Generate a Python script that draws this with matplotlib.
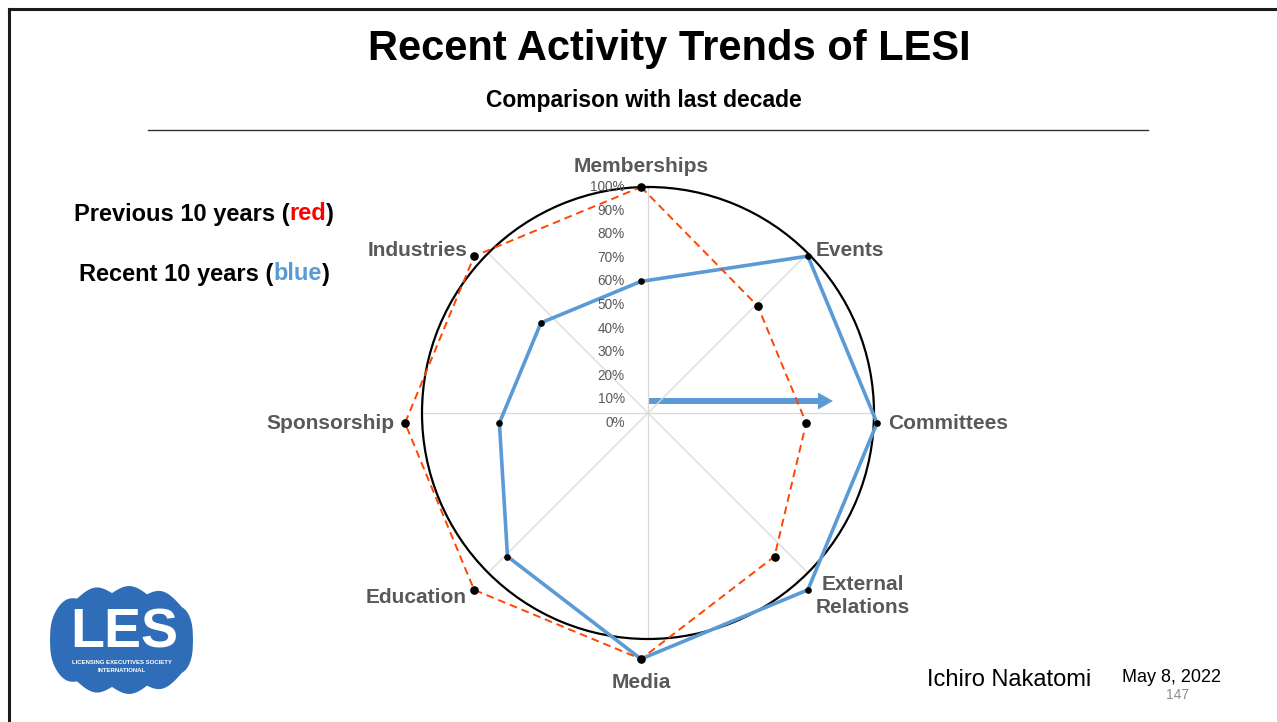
import numpy as np
import matplotlib
matplotlib.use('Agg')
import matplotlib.pyplot as plt
from matplotlib.patches import Polygon

plt.rcParams['font.family'] = ['Liberation Sans', 'DejaVu Sans']

# data
categories = ['Memberships', 'Events', 'Committees', 'External\nRelations',
              'Media', 'Education', 'Sponsorship', 'Industries']
previous = [100, 70, 70, 80, 100, 100, 100, 100]   # red, previous 10 years
recent = [60, 100, 100, 100, 100, 80, 60, 60]      # blue, recent 10 years
r_ticks = list(range(0, 101, 10))
r_labels = [f"{t}%" for t in r_ticks]

RED = '#FF4500'
BLUE = '#5B9BD5'
LABEL_GRAY = '#595959'

W, H = 1277, 722
fig = plt.figure(figsize=(W / 100, H / 100), dpi=100)

# background axes in pixel units (y down) for slide decorations
bg = fig.add_axes([0, 0, 1, 1])
bg.set_xlim(0, W)
bg.set_ylim(H, 0)
bg.axis('off')


def px_axes(cx, cy, r):
    return [(cx - r) / W, (H - cy - r) / H, 2 * r / W, 2 * r / H]


# grid axes: spokes + black outer circle (sits a bit off the data, like the slide)
grid = fig.add_axes(px_axes(648, 413, 226), projection='polar')
grid.set_theta_zero_location('N')
grid.set_theta_direction(-1)
grid.set_ylim(0, 1)
grid.set_yticks([])
grid.set_xticks(np.linspace(0, 2 * np.pi, len(categories), endpoint=False))
grid.set_xticklabels([])
grid.xaxis.grid(True, color='#D9D9D9', lw=0.9)
grid.spines['polar'].set_color('black')
grid.spines['polar'].set_linewidth(1.6)
grid.patch.set_alpha(0)

# data axes
ax = fig.add_axes(px_axes(641, 423, 236), projection='polar')
ax.set_theta_zero_location('N')
ax.set_theta_direction(-1)
ax.set_ylim(0, 100)
ax.patch.set_alpha(0)
ax.spines['polar'].set_visible(False)
ax.grid(False)
ax.set_xticks([])
ax.set_yticks([])

theta = np.linspace(0, 2 * np.pi, len(categories), endpoint=False)
th_c = np.append(theta, theta[0])
prev_c = previous + previous[:1]
rec_c = recent + recent[:1]

ax.plot(th_c, rec_c, color=BLUE, lw=2.6, zorder=3, clip_on=False)
ax.plot(theta, recent, 'o', color='black', ms=3.8, zorder=5, clip_on=False)
ax.plot(th_c, prev_c, color=RED, lw=1.4, ls=(0, (4, 2.5)), zorder=4, clip_on=False)
ax.plot(theta, previous, 'o', color='black', ms=5.2, zorder=5, clip_on=False)

# radial tick labels along the top spoke
for t, lab in zip(r_ticks, r_labels):
    ax.annotate(lab, xy=(0, t), xytext=(-16, 0), textcoords='offset pixels',
                ha='right', va='center', fontsize=9.8, color=LABEL_GRAY,
                annotation_clip=False)

# category labels
offsets = [(0, 21, 'center'), (8, 6, 'left'), (11, 0, 'left'), (8, -6, 'left'),
           (0, -24, 'center'), (-7, -8, 'right'), (-10, 0, 'right'), (-7, 6, 'right')]
for th, lab, (dx, dy, ha) in zip(theta, categories, offsets):
    ax.annotate(lab, xy=(th, 100), xytext=(dx, dy), textcoords='offset pixels',
                ha=ha, va='center', multialignment='center', fontsize=15,
                fontweight='bold', color=LABEL_GRAY, linespacing=1.3,
                annotation_clip=False)

# blue arrow
bg.arrow(648, 401, 185, 0, width=6, head_width=17, head_length=15,
         length_includes_head=True, color=BLUE, lw=0)

# slide frame
bg.plot([9, W], [9, 9], color='#1a1a1a', lw=2.2)
bg.plot([9, 9], [9, H], color='#1a1a1a', lw=2.2)
bg.plot([148, 1148], [130, 130], color='#333333', lw=1.0)

# titles
bg.text(669, 49, 'Recent Activity Trends of LESI', ha='center', va='center',
        fontsize=30, fontweight='bold', color='black')
bg.text(644, 101, 'Comparison with last decade', ha='center', va='center',
        fontsize=16.5, fontweight='bold', color='black')

# coloured legend lines
fig.canvas.draw()
renderer = fig.canvas.get_renderer()


def colored_line(x, y, parts, size):
    for txt, col in parts:
        t = bg.text(x, y, txt, ha='left', va='center', fontsize=size,
                    fontweight='bold', color=col)
        bb = t.get_window_extent(renderer)
        x += bb.width


colored_line(74, 214, [('Previous 10 years (', 'black'), ('red', '#FF0000'), (')', 'black')], 17)
colored_line(79, 274, [('Recent 10 years (', 'black'), ('blue', BLUE), (')', 'black')], 17)

# footer
bg.text(927, 680, 'Ichiro Nakatomi', ha='left', va='center', fontsize=17, color='black')
bg.text(1122, 678, 'May 8, 2022', ha='left', va='center', fontsize=13, color='black')
bg.text(1178, 695, '147', ha='center', va='center', fontsize=10, color='#8C8C8C')

# LES logo (approximate): rounded globe with scalloped top and bottom
lx = np.linspace(50, 193, 400)
cx, cy, a, b = 121.5, 640, 71.5, 54
u = np.clip(np.abs((lx - cx) / a), 0, 1)
base = b * (1 - u ** 2.6) ** (1 / 2.6)
scal = 7 * (1 - np.abs(np.sin(np.pi * (lx - 77) / 35))) * (1 - u ** 4)
top = np.minimum(cy - base + scal, cy)
bot = np.maximum(cy + base - scal, cy)
pts = np.column_stack([np.concatenate([lx, lx[::-1]]),
                       np.concatenate([top, bot[::-1]])])
bg.add_patch(Polygon(pts, closed=True, facecolor='#2F6DB8', edgecolor='none'))
bg.text(124, 634, 'LES', ha='center', va='center', fontsize=40, fontweight='bold',
        color='white')
bg.text(122, 662, 'LICENSING EXECUTIVES SOCIETY', ha='center', va='center',
        fontsize=4.3, fontweight='bold', color='white')
bg.text(122, 670, 'INTERNATIONAL', ha='center', va='center', fontsize=4.3,
        fontweight='bold', color='white')

fig.savefig('out.png', dpi=100)
